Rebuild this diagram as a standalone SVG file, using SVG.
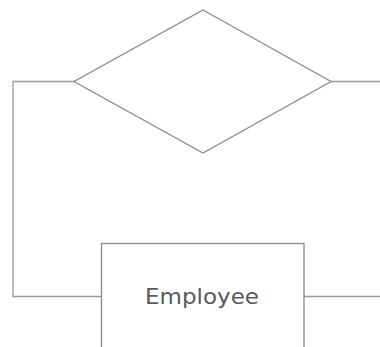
<svg xmlns="http://www.w3.org/2000/svg" width="380" height="347" viewBox="0 0 380 347">
<style>
.shape{fill:#fff;stroke:#8a8a8a;stroke-width:1.3}
.conn{fill:none;stroke:#9a9a9a;stroke-width:1.3}
.label{font-family:"DejaVu Sans",Verdana,sans-serif;font-size:22px;fill:#5a5a5a}
</style>
<rect width="380" height="347" fill="#fff"/>
<g id="connectors">
<polyline class="conn" points="74,81.5 13,81.5 13,296.5 101.5,296.5"/>
<line class="conn" x1="331" y1="81.5" x2="380" y2="81.5"/>
<line class="conn" x1="304" y1="296.5" x2="380" y2="296.5"/>
</g>
<g id="relationship">
<polygon class="shape" points="203,10 331,81.5 203,153 74,81.5"/>
</g>
<g id="employee">
<rect class="shape" x="101.5" y="243.5" width="202.5" height="120"/>
<text class="label" x="145" y="303.5" textLength="114" lengthAdjust="spacingAndGlyphs">Employee</text>
</g>
</svg>
